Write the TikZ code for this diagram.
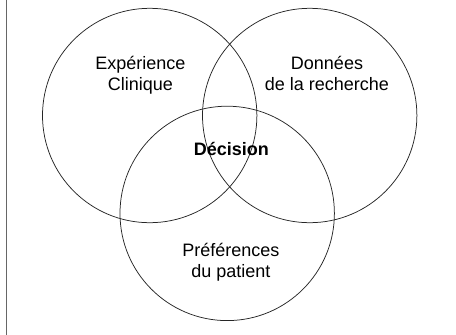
\documentclass[tikz,border=0pt]{standalone}
\usepackage{fontspec}
\setmainfont{Liberation Sans}
\begin{document}
\begin{tikzpicture}[x=1pt,y=-1pt,
  venn/.style={draw=black!85,line width=0.75pt},
  label/.style={inner sep=0pt,align=center,font=\fontsize{18}{21.5}\selectfont},
  core/.style={inner sep=0pt,font=\fontsize{18}{21.5}\selectfont\bfseries}]
  \useasboundingbox (0,0) rectangle (456,335);
  % frame rule on the left side
  \draw[line width=1.3pt,black!60] (6.5,0) -- (6.5,335);
  % the three overlapping circles
  \node[venn,circle,minimum size=214.4pt,inner sep=0pt] (exp) at (149.7,115.5) {};
  \node[venn,circle,minimum size=214.4pt,inner sep=0pt] (dat) at (309.7,115.5) {};
  \node[venn,circle,minimum size=214.4pt,inner sep=0pt] (pat) at (227.2,213.4) {};
  % labels
  \node[label] (lexp) at (140.3,75.2) {Expérience\\Clinique};
  \node[label] (ldat) at (327,73.4) {Données\\de la recherche};
  \node[label] (lpat) at (230.8,262) {Préférences\\du patient};
  \node[core,anchor=base] (ldec) at (231.3,155) {Décision};
\end{tikzpicture}
\end{document}
